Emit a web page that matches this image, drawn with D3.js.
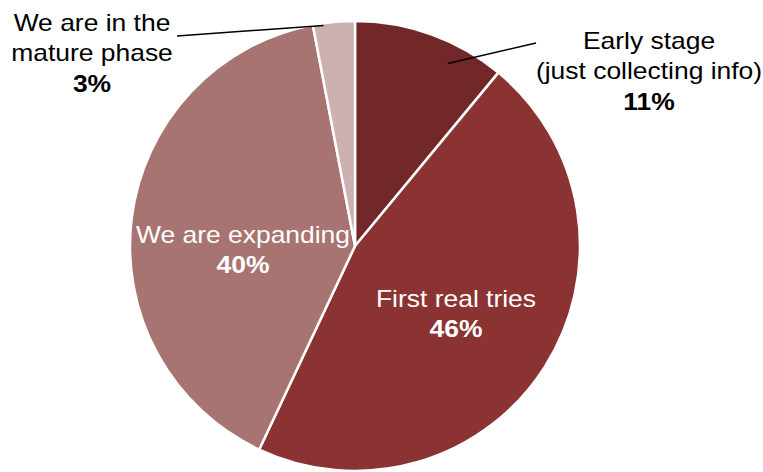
<!DOCTYPE html>
<html lang="en">
<head>
<meta charset="utf-8">
<title>Stage pie</title>
<script src="https://d3js.org/d3.v7.min.js"></script>
<style>
  body { margin: 0; background: #fff; }
  svg text { font-family: "Liberation Sans", Arial, sans-serif; font-size: 23px; }
</style>
</head>
<body>
<svg id="chart"></svg>
<script>
// data
const stages = ['Early stage\n(just collecting info)', 'First real tries', 'We are expanding', 'We are in the\nmature phase'];
const shares = [11, 46, 40, 3];
const colors = ['#722828', '#8b3333', '#a87471', '#cdb0b0'];

const width = 763, height = 472;
const cx = 355, cy = 246, radius = 225;

// label placement (offsets from pie centre), first baseline
const labelPos = [
  {dx: 294, dy: -197, fill: '#000', inside: false},
  {dx: 101, dy: 61, fill: '#fff', inside: true},
  {dx: -112, dy: -3, fill: '#fff', inside: true},
  {dx: -263, dy: -215, fill: '#000', inside: false}
];
// leader lines: start on slice (fraction of slice angle, fraction of radius), end offset from centre
const leaders = [
  {slice: 0, t: 0.68, r: 0.91, ex: 181, ey: -203},
  {slice: 3, t: 0.25, r: 0.99, ex: -178, ey: -210}
];

const svg = d3.select('#chart')
  .attr('width', width)
  .attr('height', height);

const g = svg.append('g')
  .attr('transform', `translate(${cx},${cy})`);

const pie = d3.pie().sort(null).value(d => d);
const arcs = pie(shares);
const arc = d3.arc().innerRadius(0).outerRadius(radius);

g.selectAll('path.slice')
  .data(arcs)
  .enter().append('path')
  .attr('class', 'slice')
  .attr('d', arc)
  .attr('fill', (d, i) => colors[i])
  .attr('stroke', '#fff')
  .attr('stroke-width', 2.5)
  .attr('stroke-linejoin', 'round');

// leader lines
g.selectAll('line.leader')
  .data(leaders)
  .enter().append('line')
  .attr('class', 'leader')
  .attr('x1', d => {
    const a = arcs[d.slice];
    const ang = a.startAngle + (a.endAngle - a.startAngle) * d.t;
    return Math.sin(ang) * radius * d.r;
  })
  .attr('y1', d => {
    const a = arcs[d.slice];
    const ang = a.startAngle + (a.endAngle - a.startAngle) * d.t;
    return -Math.cos(ang) * radius * d.r;
  })
  .attr('x2', d => d.ex)
  .attr('y2', d => d.ey)
  .attr('stroke', '#000')
  .attr('stroke-width', 1.5);

// labels
const lineH = 30.5;
arcs.forEach((a, i) => {
  const p = labelPos[i];
  const lines = stages[i].split('\n');
  const t = g.append('text')
    .attr('transform', `translate(${p.dx},${p.dy}) scale(1.15,1)`)
    .attr('text-anchor', 'middle')
    .attr('fill', p.fill);
  lines.forEach((ln, j) => {
    t.append('tspan')
      .attr('x', 0)
      .attr('y', j * lineH)
      .text(ln);
  });
  t.append('tspan')
    .attr('x', 0)
    .attr('y', lines.length * lineH)
    .attr('font-weight', 'bold')
    .text(`${shares[i]}%`);
});
</script>
</body>
</html>
